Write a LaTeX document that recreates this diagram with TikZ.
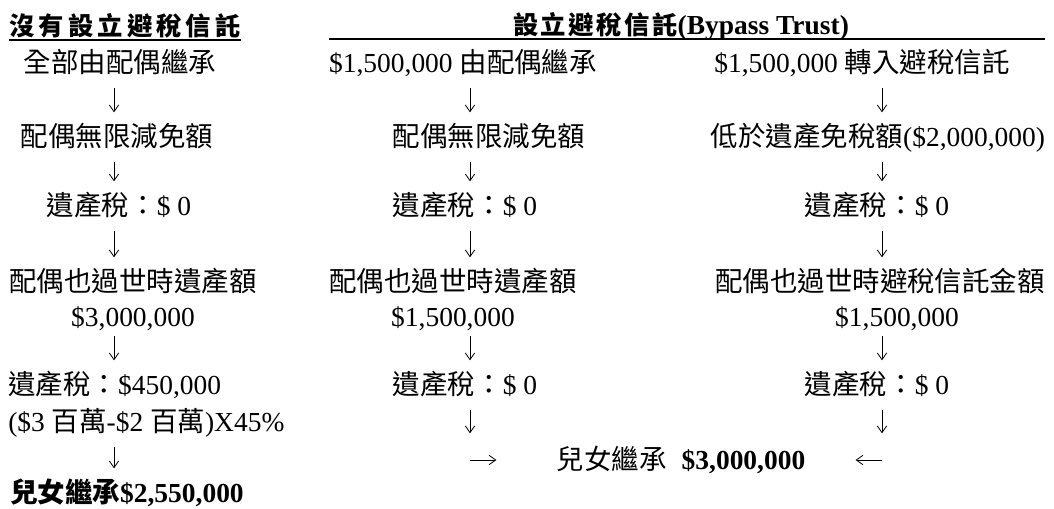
\documentclass[tikz,border=0pt]{standalone}
\usepackage{fontspec}
\setmainfont{Liberation Serif}
\newfontfamily\cjk{Noto Sans CJK TC}
\newfontfamily\cjkheadl[LetterSpace=16]{Noto Sans CJK TC}
\newfontfamily\cjkheadr[LetterSpace=10]{Noto Sans CJK TC}
\usepackage{tikz}
\usetikzlibrary{positioning,calc,arrows.meta}

\begin{document}
\begin{tikzpicture}[x=0.75pt, y=-0.75pt,
    txt/.style={inner sep=0pt, font=\fontsize{20.6}{26}\selectfont, text height=17.5pt, text depth=3.1pt},
    head/.style={txt, font=\fontsize{20.6}{26}\selectfont\bfseries},
    darr/.style={-{Straight Barb[length=5pt,width=7pt]}, line width=0.6pt, shorten <=8pt, shorten >=8pt},
    harr/.style={-{Straight Barb[length=5pt,width=7pt]}, line width=0.6pt}]
    \useasboundingbox (0,0) rectangle (1054,508);
    % headings
    \node[head] (hl) at (125,26) {{\fontsize{19}{24}\selectfont\cjkheadl 沒有設立避稅信託}};
    \node[head] (hr) at (681,25) {{\fontsize{19}{24}\selectfont\cjkheadr 設立避稅信託}(Bypass Trust)};
    % left: no bypass trust
    \node[txt] (l1) at (120,63) {{\cjk 全部由配偶繼承}};
    \node[txt] (l2) at (117,137) {{\cjk 配偶無限減免額}};
    \node[txt] (l3) at (119,206) {{\cjk 遺產稅：}\$ 0};
    \node[txt] (l4a) at (133,282) {{\cjk 配偶也過世時遺產額}};
    \node[txt] (l4b) at (133,317) {\$3,000,000};
    \node[txt, anchor=west] (l5a) at (8,385) {{\cjk 遺產稅：}\$450,000};
    \node[txt, anchor=west] (l5b) at (8,422) {(\$3 {\cjk 百萬}-\$2 {\cjk 百萬})X45\%};
    \node[txt, anchor=west] (l6) at (10,493) {\textbf{{\cjk 兒女繼承}\$2,550,000}};
    % middle: spouse part
    \node[txt] (m1) at (463,63) {\$1,500,000 {\cjk 由配偶繼承}};
    \node[txt] (m2) at (489,137) {{\cjk 配偶無限減免額}};
    \node[txt] (m3) at (465,206) {{\cjk 遺產稅：}\$ 0};
    \node[txt] (m4a) at (453,282) {{\cjk 配偶也過世時遺產額}};
    \node[txt] (m4b) at (453,317) {\$1,500,000};
    \node[txt] (m5) at (465,385) {{\cjk 遺產稅：}\$ 0};
    % right: trust part
    \node[txt] (r1) at (862,63) {\$1,500,000 {\cjk 轉入避稅信託}};
    \node[txt] (r2) at (878,137) {{\cjk 低於遺產免稅額}(\$2,000,000)};
    \node[txt] (r3) at (877,206) {{\cjk 遺產稅：}\$ 0};
    \node[txt] (r4a) at (880,282) {{\cjk 配偶也過世時避稅信託金額}};
    \node[txt] (r4b) at (897,317) {\$1,500,000};
    \node[txt] (r5) at (877,385) {{\cjk 遺產稅：}\$ 0};
    \node[txt] (res) at (681,460) {{\cjk 兒女繼承}\hspace{0.55em}\textbf{\$3,000,000}};

    \draw[line width=1.1pt] (hl.south west) -- (hl.south east);
    \draw[line width=1.1pt] (hr.south -| m1.west) -- (hr.south -| r4a.east);

    \coordinate (lx) at (114,0);
    \coordinate (mx) at (470,0);
    \coordinate (rx) at (882,0);
    \coordinate (mturn) at (mx |- res);
    \coordinate (rturn) at (rx |- res);

    \draw[darr] (l1.south -| lx) -- (l2.north -| lx);
    \draw[darr] (l2.south -| lx) -- (l3.north -| lx);
    \draw[darr] (l3.south -| lx) -- (l4a.north -| lx);
    \draw[darr, shorten <=4pt] (l4b.south -| lx) -- (l5a.north -| lx);
    \draw[darr] (l5b.south -| lx) -- (l6.north -| lx);

    \draw[darr] (m1.south -| mx) -- (m2.north -| mx);
    \draw[darr] (m2.south -| mx) -- (m3.north -| mx);
    \draw[darr] (m3.south -| mx) -- (m4a.north -| mx);
    \draw[darr, shorten <=4pt] (m4b.south -| mx) -- (m5.north -| mx);
    \draw[darr, shorten >=20pt] (m5.south -| mx) -- (mturn);
    \draw[harr, shorten >=45pt] (mturn) -- (res.west);

    \draw[darr] (r1.south -| rx) -- (r2.north -| rx);
    \draw[darr] (r2.south -| rx) -- (r3.north -| rx);
    \draw[darr] (r3.south -| rx) -- (r4a.north -| rx);
    \draw[darr, shorten <=4pt] (r4b.south -| rx) -- (r5.north -| rx);
    \draw[darr, shorten >=20pt] (r5.south -| rx) -- (rturn);
    \draw[harr, shorten >=37.5pt] (rturn) -- (res.east);
\end{tikzpicture}
\end{document}
